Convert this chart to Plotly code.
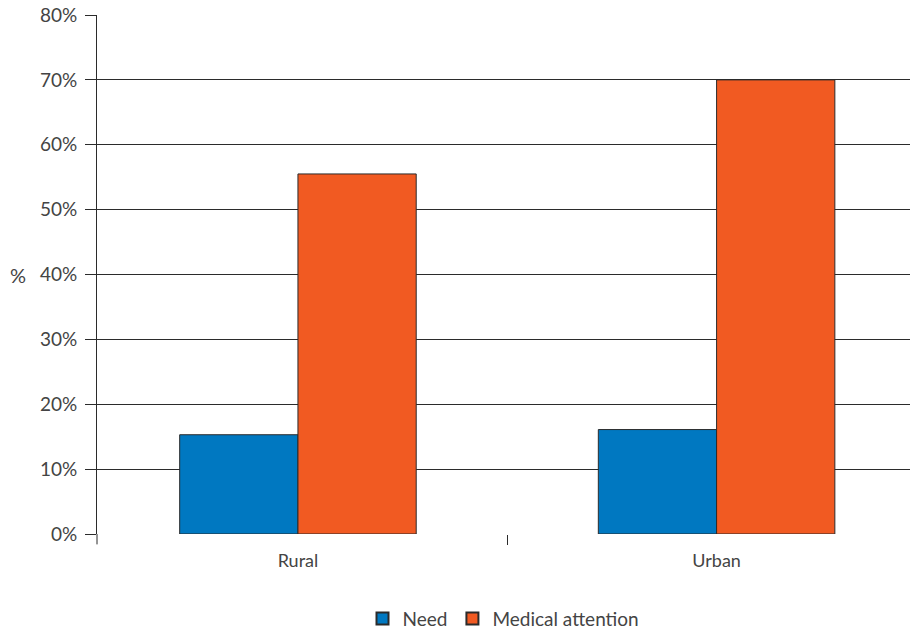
import plotly.graph_objects as go

categories = ["Rural", "Urban"]
need = [15.3, 16.1]
medical_attention = [55.5, 70.0]
y_ticks = [0, 10, 20, 30, 40, 50, 60, 70, 80]
y_tick_labels = [f"{v}%" for v in y_ticks]

FONT = "Lato, 'Open Sans', sans-serif"
TEXT = "#444444"
LINE = "#2b2b2b"

fig = go.Figure()
fig.add_trace(go.Bar(
    name="Need", x=categories, y=need,
    marker=dict(color="#0078C1", line=dict(color="#2b2b2b", width=1)),
))
fig.add_trace(go.Bar(
    name="Medical attention", x=categories, y=medical_attention,
    marker=dict(color="#F15A22", line=dict(color="#2b2b2b", width=1)),
))

fig.update_layout(
    width=910, height=633,
    margin=dict(l=97, r=0, t=15, b=99, autoexpand=False),
    paper_bgcolor="white", plot_bgcolor="white",
    barmode="group", bargap=0.435, bargroupgap=0,
    font=dict(family=FONT, size=18, color=TEXT),
    legend=dict(
        orientation="h", x=0.5, xanchor="center", y=-0.163, yanchor="middle",
        font=dict(family=FONT, size=19, color=TEXT),
        itemsizing="constant", traceorder="normal",
        itemwidth=30,
    ),
    xaxis=dict(
        range=[-0.48, 1.462],
        automargin=False,
        showgrid=False, zeroline=False,
        showline=False,
        ticks="outside", tickson="boundaries", ticklen=10,
        tickcolor=LINE, tickwidth=1,
        ticklabelstandoff=14,
        tickfont=dict(family=FONT, size=18, color=TEXT),
    ),
    yaxis=dict(
        range=[0, 80],
        automargin=False,
        tickvals=y_ticks, ticktext=y_tick_labels,
        showgrid=True, gridcolor=LINE, gridwidth=1,
        zeroline=False,
        showline=True, linecolor=LINE, linewidth=1,
        ticks="outside", ticklen=11, tickcolor=LINE, tickwidth=1,
        ticklabelstandoff=4,
        tickfont=dict(family=FONT, size=19, color=TEXT),
    ),
)

# short extension of the value axis below the baseline
fig.add_shape(type="line", xref="paper", yref="paper",
              x0=0, x1=0, y0=0, y1=-0.02,
              line=dict(color=LINE, width=1))

# axis title, drawn horizontally to the left of the tick labels
fig.add_annotation(text="%", xref="paper", yref="paper",
                   x=-0.097, y=0.5, xanchor="center", yanchor="middle",
                   showarrow=False, font=dict(family=FONT, size=20, color=TEXT))

fig.write_html("out.html")
